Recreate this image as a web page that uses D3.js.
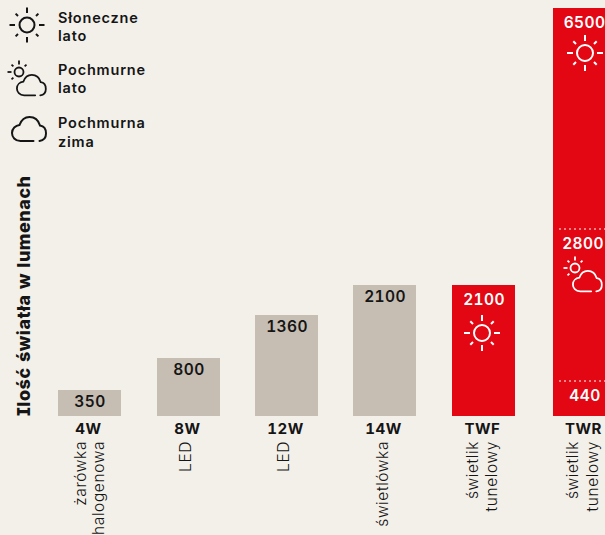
<!DOCTYPE html>
<html><head><meta charset="utf-8">
<script src="https://cdnjs.cloudflare.com/ajax/libs/d3/7.8.5/d3.min.js"></script>
<style>
html,body{margin:0;padding:0;background:#f3f0ea;overflow:hidden}
svg{display:block;font-family:Inter,"Noto Sans",sans-serif;font-feature-settings:"cv08","tnum"}
</style></head><body>
<svg id="c" width="605" height="535"></svg>
<script>
const categories = ["4W","8W","12W","14W","TWF","TWR"];
const categoryNotes = [["żarówka","halogenowa"],["LED"],["LED"],["świetlówka"],["świetlik","tunelowy"],["świetlik","tunelowy"]];
const barValues = [350,800,1360,2100,2100,6500];
const twrLevels = [2800,440];
const legendLabels = [["Słoneczne","lato"],["Pochmurne","lato"],["Pochmurna","zima"]];
const yTitle = "Ilość światła w lumenach";
const highlighted = ["TWF","TWR"];

const INK="#151515", RED="#e30613", GREY="#c6bdb3";
const svg=d3.select("#c");
// The source graphic is not to linear scale, so the axis is piecewise.
const y=d3.scaleLinear().domain([0,350,440,800,1360,2100,2800,6500]).range([416,390,381,358,315,285,229,8]);
const x=d3.scaleOrdinal().domain(categories).range([58,157,255,353,452,553]);
const barW=63;
const cx=d=>x(d)+barW/2;

const cloudD="M22,24.5H9C3.5,24.5 .5,20.5 .5,16.5C.5,12 4,9 8,8.5C10,3 14,.5 18,.5C23,.5 27,4 28.5,9C32.5,9.5 34.5,13 34.5,17C34.5,21 32,24 28,24.5";
function sun(g,cxv,cyv,r,r1,r2,color,sw,rays){
  const s=g.append("g").attr("transform",`translate(${cxv},${cyv})`).attr("fill","none").attr("stroke",color).attr("stroke-width",sw);
  s.append("circle").attr("r",r);
  (rays||d3.range(8)).forEach(i=>{
    const a=i*Math.PI/4;
    s.append("line").attr("x1",Math.cos(a)*r1*(i%2?1.06:1)).attr("y1",Math.sin(a)*r1*(i%2?1.06:1))
     .attr("x2",Math.cos(a)*r2*(i%2?0.92:1)).attr("y2",Math.sin(a)*r2*(i%2?0.92:1));
  });
}
function cloud(g,tx,ty,k,color,sw){
  g.append("path").attr("d",cloudD).attr("fill","none").attr("stroke",color)
   .attr("stroke-width",sw/k).attr("stroke-linecap","round").attr("transform",`translate(${tx},${ty}) scale(${k})`);
}

// bars
svg.selectAll("rect.bar").data(categories).join("rect").attr("class","bar")
  .attr("x",d=>x(d)).attr("width",barW)
  .attr("y",(d,i)=>y(barValues[i])).attr("height",(d,i)=>y(0)-y(barValues[i]))
  .attr("fill",d=>highlighted.includes(d)?RED:GREY);

// value labels
svg.selectAll("text.val").data(categories).join("text").attr("class","val")
  .attr("x",d=>cx(d)+(d==="TWR"?0:0.5)).attr("y",(d,i)=>y(barValues[i])+(highlighted.includes(d)?20:17))
  .attr("text-anchor","middle").attr("font-size",15.5).attr("font-weight",600).attr("letter-spacing",0.4)
  .attr("fill",d=>highlighted.includes(d)?"#fff":INK)
  .text((d,i)=>barValues[i]);

// TWR levels
const twr=svg.append("g");
twr.selectAll("line").data(twrLevels).join("line")
  .attr("x1",559).attr("x2",605).attr("y1",d=>y(d)).attr("y2",d=>y(d))
  .attr("stroke","#fff").attr("stroke-width",1).attr("stroke-dasharray","2 3");
twr.selectAll("text").data(twrLevels).join("text")
  .attr("x",(d,i)=>i?585:583).attr("y",d=>y(d)+20).attr("text-anchor","middle")
  .attr("font-size",15.5).attr("font-weight",600).attr("letter-spacing",0.4).attr("fill","#fff").text(d=>d);

// axis labels
svg.selectAll("text.cat").data(categories).join("text").attr("class","cat")
  .attr("x",d=>cx(d)-1).attr("y",434).attr("text-anchor","middle")
  .attr("font-size",15).attr("font-weight",700).attr("letter-spacing",0.5).attr("fill",INK).text(d=>d);

// rotated notes
const noteBase=[[86,104],[191],[289],[388],[478,497],[578,598]];
categories.forEach((c,i)=>categoryNotes[i].forEach((t,j)=>{
  svg.append("text").attr("transform",`translate(${noteBase[i][j]},441) rotate(-90)`)
    .attr("text-anchor","end").attr("font-size",15.5).attr("font-weight",300)
    .attr("fill",INK).attr("letter-spacing",0.6).text(t);
}));

// y title
svg.append("text").attr("transform","translate(30,416) rotate(-90)")
  .attr("font-size",18).attr("font-weight",800).attr("letter-spacing",0.5).attr("fill",INK).text(yTitle);

// legend
const legendY=[[23,41],[75,93],[128,147]];
legendLabels.forEach((l,i)=>l.forEach((t,j)=>{
  svg.append("text").attr("x",58).attr("y",legendY[i][j]).attr("font-size",14.5)
    .attr("font-weight",600).attr("letter-spacing",0.8).attr("fill",INK).text(t);
}));
const partRays=[3,4,5,6,7];
const ic=svg.append("g");
sun(ic,27,25,7.5,12,17.5,INK,2);
sun(ic,19,72,4.5,7.5,11.5,INK,1.8,partRays);
cloud(ic,16.5,74.5,0.85,INK,1.8);
cloud(ic,11.5,116.5,1,INK,2);
sun(ic,482,333,8,12,18,"#fff",2);
sun(ic,585,53,8,12,18,"#fff",2);
sun(ic,575,268,4.5,7.5,11.5,"#fff",1.8,partRays);
cloud(ic,572.5,270.5,0.85,"#fff",1.8);
</script></body></html>
